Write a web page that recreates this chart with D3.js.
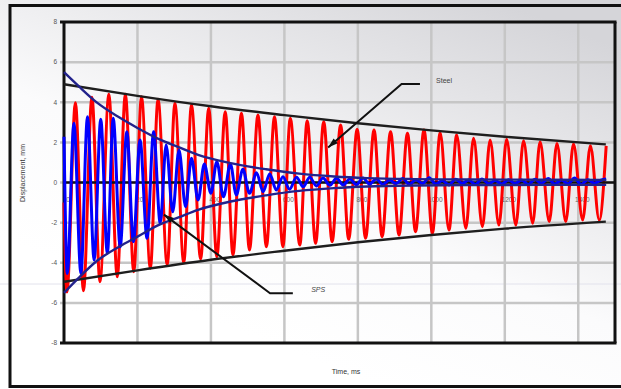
<!DOCTYPE html>
<html><head><meta charset="utf-8">
<script src="https://cdn.jsdelivr.net/npm/d3@7"></script>
<style>html,body{margin:0;padding:0;background:#fff;overflow:hidden}</style>
</head><body><svg id="c" width="621" height="389"></svg>
<script>
// ---- data (time in ms, displacement in mm) ----
const yTicks = [-8, -6, -4, -2, 0, 2, 4, 6, 8];
const yTickLabels = ["-8", "-6", "-4", "-2", "0", "2", "4", "6", "8"];
const xTicks = [0, 200, 400, 600, 800, 1000, 1200, 1400];
const xTickLabels = ["0", "200", "400", "600", "800", "1000", "1200", "1400"];

// Steel response: successive peaks / troughs
const steelT = [0, 8, 31, 53, 76, 98, 122, 145, 167, 190, 211, 235, 256, 281, 302, 326, 347, 372, 394, 416,
  439, 460, 483, 505, 528, 551, 573, 596, 616, 642, 662, 685, 707, 730, 753, 775, 798, 821, 844, 866,
  889, 912, 935, 957, 980, 1003, 1024, 1048, 1069, 1094, 1115, 1139, 1160, 1184, 1205, 1230, 1251, 1276,
  1296, 1321, 1342, 1366, 1387, 1412, 1433, 1457, 1476];
const steelV = [-1.0, -5.46, 3.97, -5.39, 4.25, -4.95, 4.40, -4.70, 4.40, -4.45, 4.28, -4.28, 4.15, -4.11, 3.95, -4.0, 3.86, -3.81, 3.70, -3.70,
  3.53, -3.61, 3.45, -3.36, 3.36, -3.20, 3.28, -3.20, 3.20, -3.12, 3.08, -3.03, 3.03, -2.95, 2.87, -2.83, 2.65, -2.78, 2.62, -2.70,
  2.53, -2.62, 2.45, -2.45, 2.62, -2.53, 2.48, -2.37, 2.37, -2.28, 2.20, -2.20, 2.12, -2.12, 2.15, -2.12, 2.08, -2.03,
  2.03, -1.95, 1.95, -1.95, 1.92, -1.87, 1.83, -1.87, 1.83];

// SPS response: successive peaks / troughs
const spsT = [0, 9, 27, 46, 64, 82, 100, 118, 134, 153, 171, 189, 207, 226, 244, 262, 278, 296, 313, 331,
  347, 365, 382, 400, 416, 434, 453, 469, 487, 505, 524, 542, 560, 578, 596, 614, 633, 651, 669, 687,
  705, 724, 742, 760, 778, 796, 814,
  832, 850, 868, 886, 904, 922, 940, 958, 976, 994, 1012, 1030, 1048, 1066, 1084, 1102, 1120, 1138, 1156, 1174,
  1192, 1210, 1228, 1246, 1264, 1282, 1300, 1318, 1336, 1354, 1372, 1390, 1408, 1426, 1444, 1462, 1476];
const spsV = [2.28, -4.53, 2.95, -4.53, 3.28, -3.86, 3.15, -3.53, 3.2, -3.2, 2.53, -2.95, 2.12, -2.78, 2.53, -2.03, 1.87, -1.46, 1.62, -1.21,
  1.21, -0.87, 0.92, -0.54, 1.04, -0.71, 0.92, -0.62, 0.66, -0.54, 0.49, -0.46, 0.42, -0.37, 0.29, -0.34, 0.26, -0.21, 0.26, -0.17,
  0.22, -0.14, 0.21, -0.12, 0.17, -0.11, 0.22,
  -0.08, 0.18, -0.10, 0.12, -0.06, 0.20, -0.09, 0.14, -0.05, 0.24, -0.08, 0.10, -0.12, 0.16, -0.04, 0.12, -0.10, 0.18, -0.06, 0.10,
  -0.08, 0.14, -0.05, 0.12, -0.10, 0.16, -0.04, 0.20, -0.08, 0.12, -0.06, 0.22, -0.10, 0.14, -0.04, 0.12, 0.17];

// Envelopes
const steelEnvT = [0, 200, 400, 600, 800, 1000, 1200, 1475];
const steelUpV = [4.9, 4.32, 3.8, 3.36, 2.95, 2.6, 2.28, 1.9];
const steelLoV = [-4.95, -4.38, -3.85, -3.4, -2.98, -2.62, -2.3, -1.95];
const spsEnvT = [0, 40, 90, 150, 200, 260, 310, 365, 450, 550, 640, 735, 825, 950, 1100, 1300, 1476];
const spsUpV = [5.5, 4.8, 3.98, 3.25, 2.72, 2.15, 1.78, 1.38, 0.98, 0.66, 0.44, 0.30, 0.22, 0.17, 0.15, 0.14, 0.13];
const spsLoV = [-5.5, -4.75, -3.9, -3.2, -2.7, -2.1, -1.75, -1.36, -0.96, -0.64, -0.42, -0.28, -0.2, -0.15, -0.13, -0.12, -0.12];

// Annotations (in data units): label, text anchor point, elbow, end of shelf, arrow tip
const annotations = [
  {label: "Steel", italic: false, tip: [719, 1.75], elbow: [919, 4.91], shelf: [969, 4.91], text: [1013, 4.96]},
  {label: "SPS", italic: true, tip: [272, -1.6], elbow: [561, -5.52], shelf: [623, -5.52], text: [673, -5.46]}
];

// ---- drawing ----
const W = 621, H = 389;
const svg = d3.select('#c');
const x = d3.scaleLinear().domain([0, 1500]).range([64, 615]);
const y = d3.scaleLinear().domain([-8, 8]).range([343, 22]);
const font = "'Liberation Sans', Arial, sans-serif";

const defs = svg.append('defs');
const g = defs.append('linearGradient').attr('id', 'bg')
  .attr('x1', 0.3).attr('y1', 0.8).attr('x2', 0.8).attr('y2', 0);
g.append('stop').attr('offset', 0).attr('stop-color', '#ffffff');
g.append('stop').attr('offset', 0.35).attr('stop-color', '#fbfbfc');
g.append('stop').attr('offset', 1).attr('stop-color', '#d5d5d9');

svg.append('rect').attr('width', W).attr('height', H).attr('fill', 'url(#bg)');
// faint scan line
svg.append('line').attr('x1', 0).attr('x2', W).attr('y1', 284).attr('y2', 284)
  .attr('stroke', '#e2e2ec').attr('stroke-width', 1);
// outer frame
svg.append('rect').attr('x', 10).attr('y', 5.5).attr('width', 640).attr('height', 381)
  .attr('fill', 'none').attr('stroke', '#111').attr('stroke-width', 3);

// grid
const grid = svg.append('g');
grid.selectAll('.hg').data(yTicks.filter(d => d !== 8 && d !== -8)).join('line')
  .attr('x1', x(0) - 4).attr('x2', x(1500)).attr('y1', d => y(d)).attr('y2', d => y(d))
  .attr('stroke', '#c6c6c6').attr('stroke-width', 2.5);
grid.selectAll('.vg').data(xTicks.filter(d => d > 0)).join('line')
  .attr('x1', d => x(d)).attr('x2', d => x(d)).attr('y1', y(8)).attr('y2', y(-8))
  .attr('stroke', '#c6c6c6').attr('stroke-width', 2.5);

// plot frame
const fr = svg.append('g').attr('stroke', '#111').attr('stroke-width', 3).attr('fill', 'none');
fr.append('line').attr('x1', x(0) - 4).attr('x2', x(1500) + 1.5).attr('y1', y(8)).attr('y2', y(8));
fr.append('line').attr('x1', x(0) - 4).attr('x2', x(1500) + 1.5).attr('y1', y(-8)).attr('y2', y(-8));
fr.append('line').attr('x1', x(0)).attr('x2', x(0)).attr('y1', y(8)).attr('y2', y(-8));
fr.append('line').attr('x1', x(1500)).attr('x2', x(1500)).attr('y1', y(8)).attr('y2', y(-8));

// y tick labels
svg.append('g').selectAll('text').data(yTicks).join('text')
  .attr('x', 57).attr('y', d => y(d)).attr('dy', '0.35em').attr('text-anchor', 'end')
  .attr('font-family', font).attr('font-size', 6.5).attr('fill', '#555')
  .text((d, i) => yTickLabels[i]);
// x tick labels (inside plot, below zero line)
svg.append('g').selectAll('text').data(xTicks).join('text')
  .attr('x', d => x(d) + 4).attr('y', y(0) + 19).attr('text-anchor', 'middle')
  .attr('font-family', font).attr('font-size', 6.5).attr('fill', '#666')
  .text((d, i) => xTickLabels[i]);

const curve = d3.curveMonotoneX;
const ln = d3.line().x(d => x(d[0])).y(d => y(d[1])).curve(curve);
const zip = (a, b) => a.map((t, i) => [t, b[i]]);

// steel
svg.append('path').attr('d', ln(zip(steelT, steelV)))
  .attr('fill', 'none').attr('stroke', '#ff0000').attr('stroke-width', 3).attr('stroke-linejoin', 'round');
// zero line
svg.append('line').attr('x1', x(0)).attr('x2', x(1500)).attr('y1', y(0)).attr('y2', y(0))
  .attr('stroke', '#111').attr('stroke-width', 2.5);
// sps
svg.append('path').attr('d', ln(zip(spsT, spsV)))
  .attr('fill', 'none').attr('stroke', '#0000ff').attr('stroke-width', 3).attr('stroke-linejoin', 'round');

// steel envelopes
[steelUpV, steelLoV].forEach(v => {
  svg.append('path').attr('d', ln(zip(steelEnvT, v)))
    .attr('fill', 'none').attr('stroke', '#1e1e1e').attr('stroke-width', 2.4);
});
// sps envelopes
[spsUpV, spsLoV].forEach(v => {
  svg.append('path').attr('d', ln(zip(spsEnvT, v)))
    .attr('fill', 'none').attr('stroke', '#22228c').attr('stroke-width', 2.4);
});

// annotations
annotations.forEach(a => {
  const tip = [x(a.tip[0]), y(a.tip[1])], el = [x(a.elbow[0]), y(a.elbow[1])], sh = [x(a.shelf[0]), y(a.shelf[1])];
  svg.append('polyline').attr('points', [sh, el, tip].map(p => p.join(',')).join(' '))
    .attr('fill', 'none').attr('stroke', '#111').attr('stroke-width', 2);
  const ang = Math.atan2(tip[1] - el[1], tip[0] - el[0]);
  const L = 10, Wd = 3.2;
  const bx = tip[0] - L * Math.cos(ang), by = tip[1] - L * Math.sin(ang);
  const px = -Math.sin(ang) * Wd, py = Math.cos(ang) * Wd;
  svg.append('polygon').attr('points', [[tip[0], tip[1]], [bx + px, by + py], [bx - px, by - py]].map(p => p.join(',')).join(' '))
    .attr('fill', '#111');
  svg.append('text').attr('x', x(a.text[0])).attr('y', y(a.text[1]))
    .attr('font-family', font).attr('font-size', 7).attr('fill', '#444')
    .attr('font-style', a.italic ? 'italic' : 'normal').text(a.label);
});

// axis titles
svg.append('text').attr('x', 346).attr('y', 374).attr('text-anchor', 'middle')
  .attr('font-family', font).attr('font-size', 7).attr('fill', '#333').text('Time, ms');
svg.append('text').attr('transform', 'translate(25,173) rotate(-90)').attr('text-anchor', 'middle')
  .attr('font-family', font).attr('font-size', 7).attr('fill', '#333').text('Displacement, mm');
</script></body></html>
